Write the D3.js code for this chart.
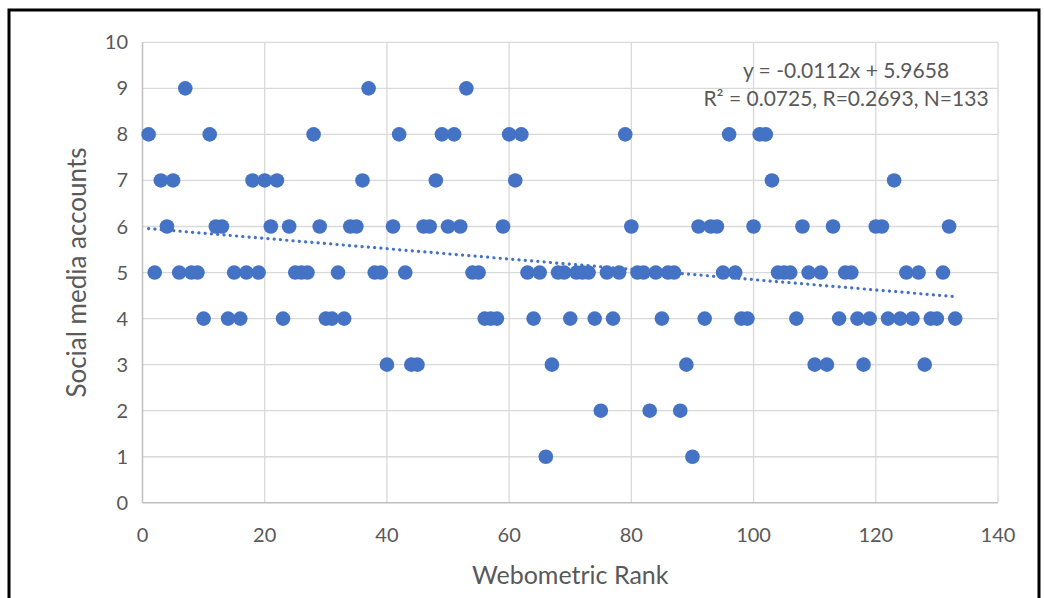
<!DOCTYPE html>
<html>
<head>
<meta charset="utf-8">
<script src="https://cdn.jsdelivr.net/npm/d3@7"></script>
<style>
  body { margin: 0; background: #fff; }
  svg { display: block; }
  text { font-family: Lato, "Open Sans", sans-serif; fill: #595959; }
</style>
</head>
<body>
<div id="chart"></div>
<script>
// webometric rank 1..133, social media accounts
const ranks = d3.range(1, 134);
const accounts = [
  8, 5, 7, 6, 7, 5, 9, 5, 5, 4,
  8, 6, 6, 4, 5, 4, 5, 7, 5, 7,
  6, 7, 4, 6, 5, 5, 5, 8, 6, 4,
  4, 5, 4, 6, 6, 7, 9, 5, 5, 3,
  6, 8, 5, 3, 3, 6, 6, 7, 8, 6,
  8, 6, 9, 5, 5, 4, 4, 4, 6, 8,
  7, 8, 5, 4, 5, 1, 3, 5, 5, 4,
  5, 5, 5, 4, 2, 5, 4, 5, 8, 6,
  5, 5, 2, 5, 4, 5, 5, 2, 3, 1,
  6, 4, 6, 6, 5, 8, 5, 4, 4, 6,
  8, 8, 7, 5, 5, 5, 4, 6, 5, 3,
  5, 3, 6, 4, 5, 5, 4, 3, 4, 6,
  6, 4, 7, 4, 5, 4, 5, 3, 4, 4,
  5, 6, 4
];
const xTicks = [0, 20, 40, 60, 80, 100, 120, 140];
const yTicks = [0, 1, 2, 3, 4, 5, 6, 7, 8, 9, 10];
const slope = -0.0112, intercept = 5.9658;
const eqLines = ["y = -0.0112x + 5.9658", "R² = 0.0725, R=0.2693, N=133"];

const width = 1044, height = 598;
const svg = d3.select("#chart").append("svg")
    .attr("width", width)
    .attr("height", height);

// outer frame
svg.append("rect")
    .attr("x", 9).attr("y", 10)
    .attr("width", 1030).attr("height", 600)
    .attr("fill", "none")
    .attr("stroke", "#000")
    .attr("stroke-width", 3);

const x = d3.scaleLinear().domain([0, 140]).range([142.5, 998]);
const y = d3.scaleLinear().domain([0, 10]).range([502.8, 42.3]);

// gridlines
svg.append("g")
    .selectAll("line.h")
    .data(yTicks.slice(1))
    .join("line")
    .attr("x1", x(0)).attr("x2", x(140))
    .attr("y1", d => y(d)).attr("y2", d => y(d))
    .attr("stroke", "#d9d9d9").attr("stroke-width", 1.3);

svg.append("g")
    .selectAll("line.v")
    .data(xTicks.slice(1))
    .join("line")
    .attr("x1", d => x(d)).attr("x2", d => x(d))
    .attr("y1", y(0)).attr("y2", y(10))
    .attr("stroke", "#d9d9d9").attr("stroke-width", 1.3);

// axis lines
svg.append("line")
    .attr("x1", x(0)).attr("x2", x(140))
    .attr("y1", y(0)).attr("y2", y(0))
    .attr("stroke", "#bfbfbf").attr("stroke-width", 1.5);
svg.append("line")
    .attr("x1", x(0)).attr("x2", x(0))
    .attr("y1", y(0)).attr("y2", y(10))
    .attr("stroke", "#bfbfbf").attr("stroke-width", 1.5);

// tick labels
svg.append("g")
    .selectAll("text")
    .data(yTicks)
    .join("text")
    .attr("x", 128)
    .attr("y", d => y(d) + 7)
    .attr("text-anchor", "end")
    .attr("font-size", 20)
    .text(d => d);

svg.append("g")
    .selectAll("text")
    .data(xTicks)
    .join("text")
    .attr("x", d => x(d))
    .attr("y", 542)
    .attr("text-anchor", "middle")
    .attr("font-size", 20)
    .text(d => d);

// axis titles
svg.append("text")
    .attr("x", x(70))
    .attr("y", 584)
    .attr("text-anchor", "middle")
    .attr("font-size", 25)
    .text("Webometric Rank");

svg.append("text")
    .attr("transform", `translate(86, ${y(5)}) rotate(-90)`)
    .attr("text-anchor", "middle")
    .attr("font-size", 26)
    .text("Social media accounts");

// trend line
svg.append("line")
    .attr("x1", x(1)).attr("y1", y(slope * 1 + intercept))
    .attr("x2", x(133)).attr("y2", y(slope * 133 + intercept))
    .attr("stroke", "#4472c4")
    .attr("stroke-width", 3.2)
    .attr("stroke-linecap", "round")
    .attr("stroke-dasharray", "0.1 6.2");

// points
svg.append("g")
    .selectAll("circle")
    .data(ranks)
    .join("circle")
    .attr("cx", (d, i) => x(d))
    .attr("cy", (d, i) => y(accounts[i]))
    .attr("r", 7.3)
    .attr("fill", "#4472c4");

// equation label
svg.append("g")
    .selectAll("text")
    .data(eqLines)
    .join("text")
    .attr("x", 846)
    .attr("y", (d, i) => 78 + i * 28)
    .attr("text-anchor", "middle")
    .attr("font-size", 21)
    .text(d => d);
</script>
</body>
</html>
